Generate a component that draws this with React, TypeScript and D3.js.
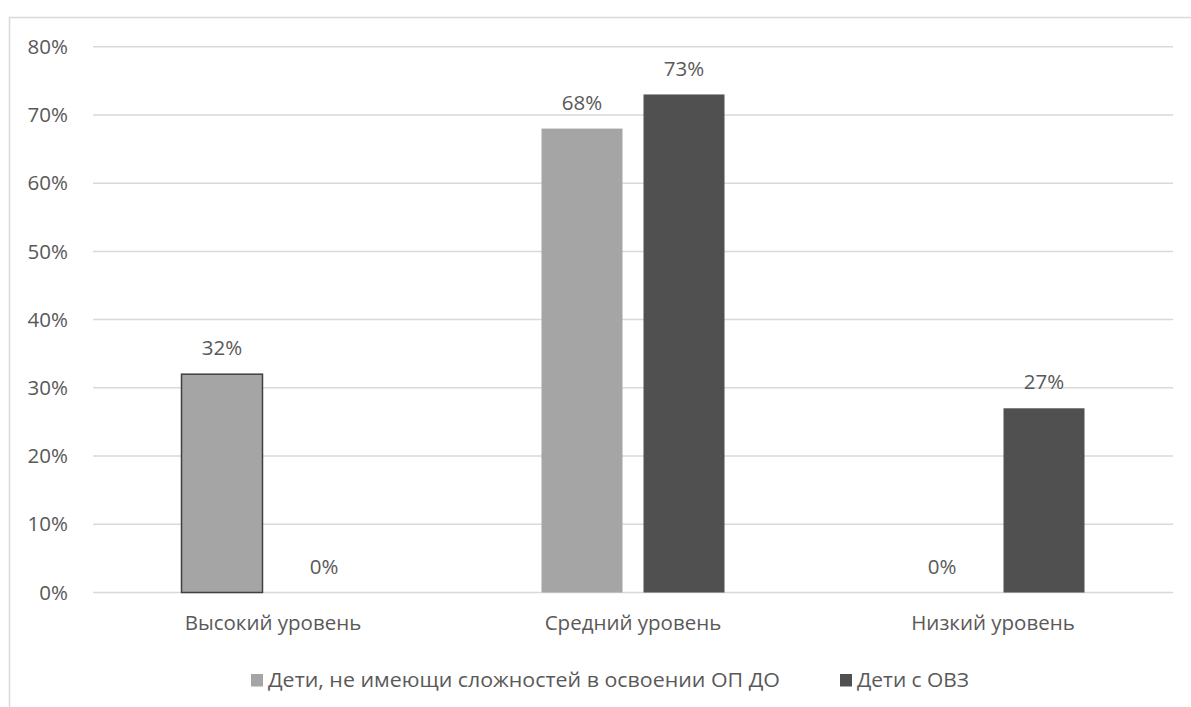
import React from "react";
import * as d3 from "d3";

const categories = ["Высокий уровень", "Средний уровень", "Низкий уровень"];
const seriesNames = ["Дети, не имеющи сложностей в освоении ОП ДО", "Дети с ОВЗ"];
const seriesA = [0.32, 0.68, 0];
const seriesB = [0, 0.73, 0.27];
const yTicks = [0, 0.1, 0.2, 0.3, 0.4, 0.5, 0.6, 0.7, 0.8];
const colors = ["#A5A5A5", "#505050"];

const W = 1191;
const H = 707;
const plotL = 93;
const plotR = 1173;
const plotT = 46.7;
const plotB = 592.5;
const font = "'Open Sans', sans-serif";
const textColor = "#595959";
const fs = 20.5;

export default function App() {
  const x0 = d3.scaleBand<string>().domain(categories).range([plotL, plotR]).paddingInner(0).paddingOuter(0);
  const groupW = 183;
  const x1 = d3.scaleBand<number>().domain([0, 1]).range([0, groupW]).paddingInner(0.206);
  const y = d3.scaleLinear().domain([0, 0.8]).range([plotB, plotT]);
  const fmt = d3.format(".0%");
  const series = [seriesA, seriesB];
  const legendX = [251, 840];
  const legendTextW = [512, 112];

  return (
    <svg width={W} height={H} style={{ position: "absolute", left: 0, top: 0, background: "#fff" }}>
      <rect x={9.5} y={17.5} width={W} height={H} fill="none" stroke="#D9D9D9" strokeWidth={1.5} />
      {yTicks.map((t) => (
        <g key={t}>
          <line x1={plotL} x2={plotR} y1={y(t)} y2={y(t)} stroke="#D9D9D9" strokeWidth={1.5} />
          <text x={68} y={y(t)} dy="0.35em" textAnchor="end" fontFamily={font} fontSize={fs} fill={textColor}>
            {fmt(t)}
          </text>
        </g>
      ))}
      {categories.map((c, i) => {
        const gx = (x0(c) as number) + x0.bandwidth() / 2 - groupW / 2;
        return (
          <g key={c}>
            {series.map((s, j) => {
              const v = s[i];
              const bx = gx + (x1(j) as number);
              const bw = x1.bandwidth();
              return (
                <g key={j}>
                  {v > 0 && (
                    <rect
                      x={bx}
                      y={y(v)}
                      width={bw}
                      height={plotB - y(v)}
                      fill={colors[j]}
                      stroke={i === 0 && j === 0 ? "#404040" : "none"}
                      strokeWidth={1.5}
                    />
                  )}
                  <text x={bx + bw / 2} y={y(v) - 26} dy="0.35em" textAnchor="middle" fontFamily={font} fontSize={fs} fill={textColor}>
                    {fmt(v)}
                  </text>
                </g>
              );
            })}
            <text x={(x0(c) as number) + x0.bandwidth() / 2} y={623} dy="0.35em" textAnchor="middle" fontFamily={font} fontSize={fs} fill={textColor}>
              {c}
            </text>
          </g>
        );
      })}
      {seriesNames.map((n, j) => {
        const lx = legendX[j];
        return (
          <g key={n}>
            <rect x={lx} y={674} width={12} height={12.5} fill={colors[j]} />
            <text
              x={lx + 17}
              y={679.5}
              dy="0.35em"
              fontFamily={font}
              fontSize={fs}
              fill={textColor}
              textLength={legendTextW[j]}
              lengthAdjust="spacingAndGlyphs"
            >
              {n}
            </text>
          </g>
        );
      })}
    </svg>
  );
}
